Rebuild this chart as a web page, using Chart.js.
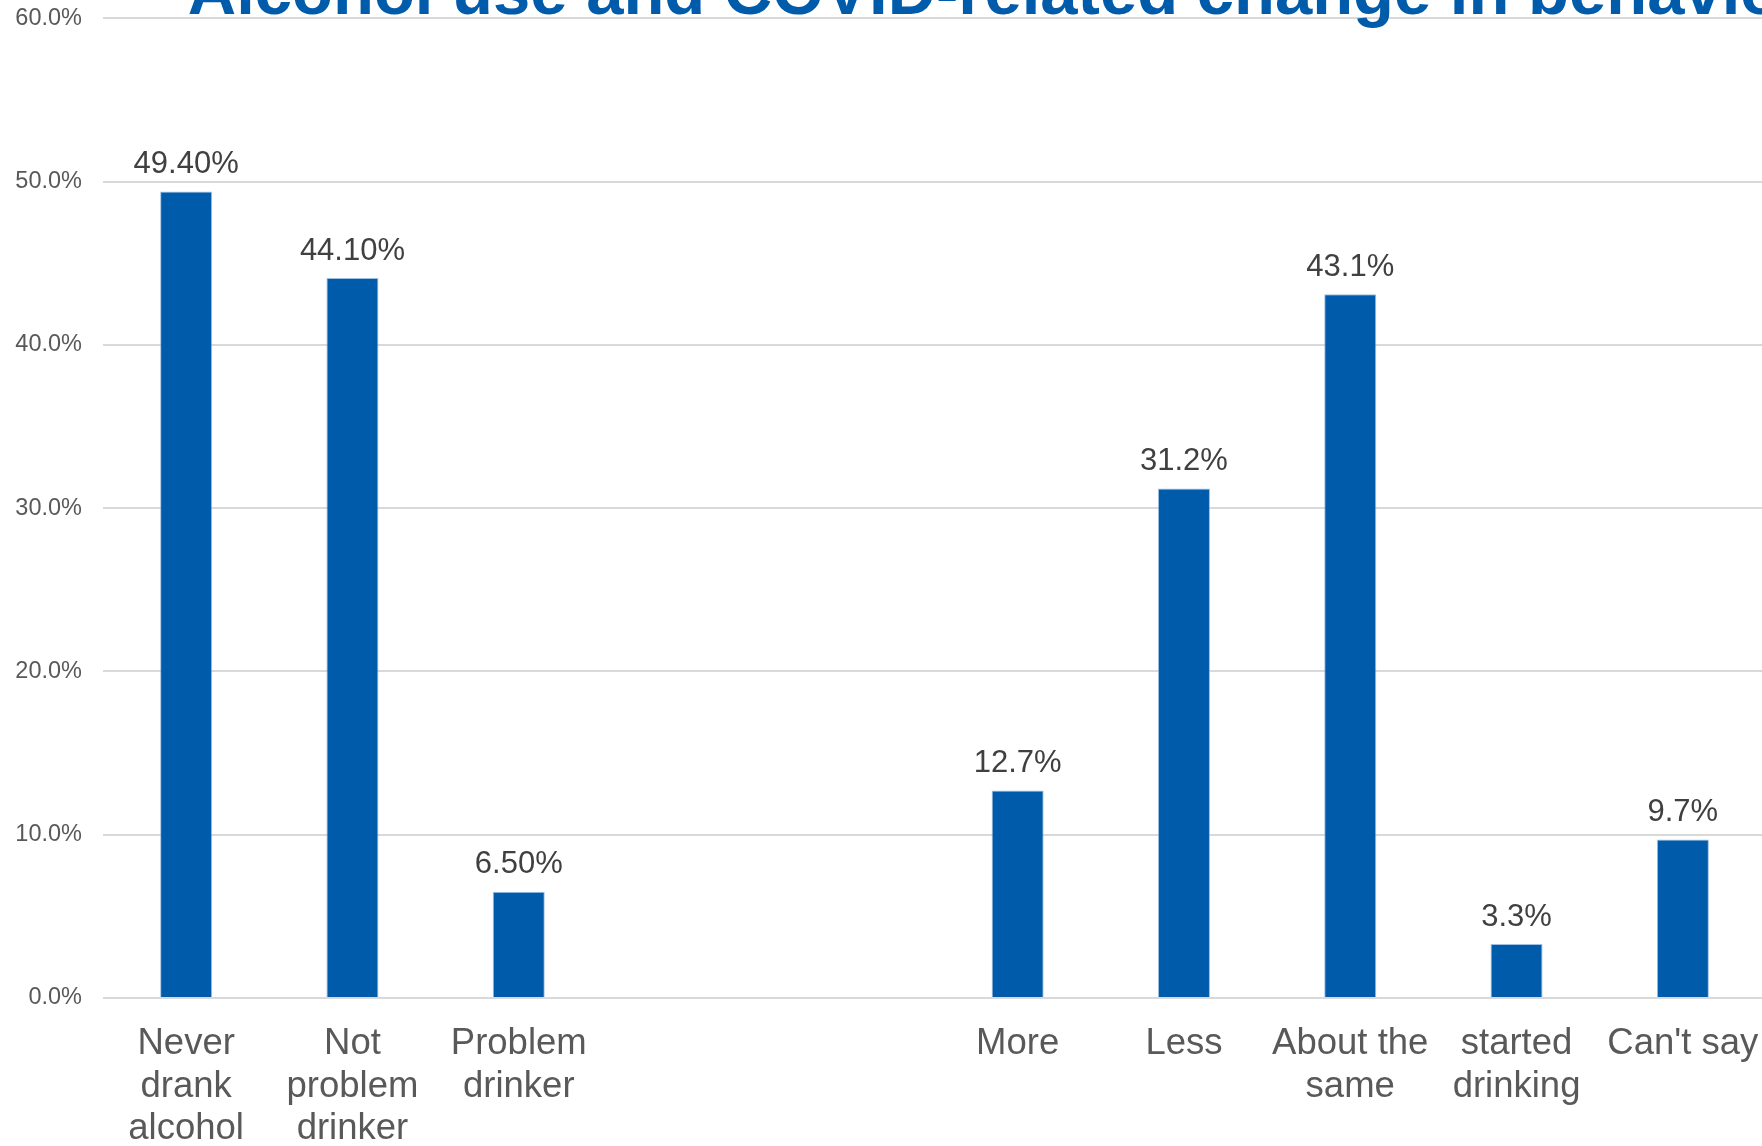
<!DOCTYPE html>
<html>
<head>
<meta charset="utf-8">
<script src="https://cdn.jsdelivr.net/npm/chart.js@4.4.1/dist/chart.umd.min.js"></script>
<style>
  html, body { margin: 0; padding: 0; background: #ffffff; overflow: hidden; }
  body { width: 1762px; height: 1146px; position: relative; }
  #wrap { position: absolute; left: 0; top: -45px; width: 2036px; height: 1218px; }
</style>
</head>
<body>
<div id="wrap"><canvas id="alcoholChart"></canvas></div>
<script>
// chart data
const chartTitle = "Alcohol use and COVID-related change in behaviour";
const categories = [
  ["Never", "drank", "alcohol"],
  ["Not", "problem", "drinker"],
  ["Problem", "drinker"],
  "",
  "",
  "More",
  "Less",
  ["About the", "same"],
  ["started", "drinking"],
  "Can't say"
];
const values = [49.4, 44.1, 6.5, null, null, 12.7, 31.2, 43.1, 3.3, 9.7];
const valueLabels = ["49.40%", "44.10%", "6.50%", "", "", "12.7%", "31.2%", "43.1%", "3.3%", "9.7%"];
const yTicks = [0, 10, 20, 30, 40, 50, 60];

const FONT = "'Liberation Sans', Arial, sans-serif";
const BLUE = "#005BAA";

// draws the % text over each bar
const barLabels = {
  id: "barLabels",
  afterDatasetsDraw(chart) {
    let ctx = chart.ctx;
    let meta = chart.getDatasetMeta(0);
    ctx.save();
    ctx.font = "31px " + FONT;
    ctx.fillStyle = "#404040";
    ctx.textAlign = "center";
    ctx.textBaseline = "alphabetic";
    meta.data.forEach((bar, i) => {
      if (values[i] === null) return;
      ctx.fillText(valueLabels[i], bar.x, bar.y - 18.5);
    });
    ctx.restore();
  }
};

document.addEventListener("DOMContentLoaded", () => {
  let context = document.getElementById("alcoholChart").getContext("2d");
  window.myChart = new Chart(context, {
    type: "bar",
    data: {
      labels: categories,
      datasets: [{
        data: values,
        backgroundColor: BLUE,
        borderColor: "rgba(120,165,215,0.7)",
        borderWidth: 1,
        categoryPercentage: 1.0,
        barPercentage: 0.313
      }]
    },
    options: {
      responsive: true,
      maintainAspectRatio: false,
      animation: false,
      layout: { padding: { left: 0, right: 0, top: 0, bottom: 6 } },
      scales: {
        x: {
          grid: { display: false },
          border: { display: false },
          ticks: {
            color: "#595959",
            padding: 16.5,
            maxRotation: 0,
            autoSkip: false,
            font: { family: FONT, size: 36.5, lineHeight: 1.17 }
          }
        },
        y: {
          min: 0,
          max: 60,
          afterBuildTicks: (scale) => {
            scale.ticks = yTicks.map(v => ({ value: v }));
          },
          afterFit: (scale) => { scale.width = 103; },
          border: { display: false },
          grid: { color: "#d9d9d9", lineWidth: 2, drawTicks: false },
          ticks: {
            color: "#595959",
            padding: 21,
            font: { family: FONT, size: 23.5 },
            callback: (v) => v.toFixed(1) + "%"
          }
        },
        // empty axis on the right, only holds room so the title sits where it does
        yRight: {
          position: "right",
          min: 0,
          max: 1,
          afterFit: (scale) => { scale.width = 270; },
          grid: { display: false },
          border: { display: false },
          ticks: { display: false }
        }
      },
      plugins: {
        legend: { display: false },
        tooltip: { enabled: false },
        title: {
          display: true,
          text: chartTitle,
          color: BLUE,
          font: { family: FONT, size: 67, weight: "bold", lineHeight: 1.2 },
          padding: { top: 0, bottom: -16.9 }
        }
      }
    },
    plugins: [barLabels]
  });
});
</script>
</body>
</html>
